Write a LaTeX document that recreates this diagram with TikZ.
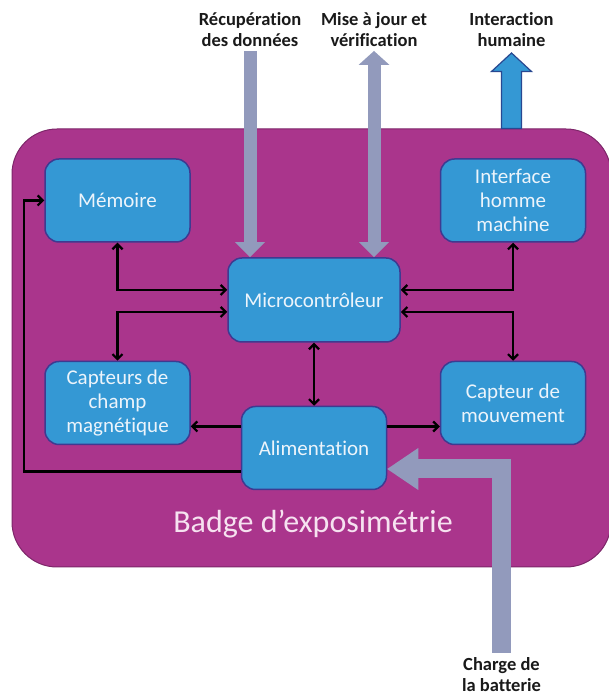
\documentclass[tikz,border=0pt]{standalone}
\usepackage{fontspec}
\setmainfont{Carlito}[Ligatures=NoCommon]
\usetikzlibrary{arrows.meta,positioning,calc}

\definecolor{badgeFill}{RGB}{170,53,140}
\definecolor{badgeLine}{RGB}{125,38,105}
\definecolor{blocFill}{RGB}{52,152,212}
\definecolor{blocLine}{RGB}{62,58,145}
\definecolor{blocText}{RGB}{236,244,251}
\definecolor{titreText}{RGB}{246,226,240}
\definecolor{grisFleche}{RGB}{146,154,188}
\definecolor{bleuLine}{RGB}{40,72,145}

\tikzset{
  badge/.style={rectangle, rounded corners=45pt, draw=badgeLine, line width=1pt,
    fill=badgeFill, minimum width=599pt, minimum height=438pt, inner sep=0pt},
  bloc/.style={rectangle, rounded corners=14pt, draw=blocLine, line width=1.5pt,
    fill=blocFill, text=blocText, font=\fontsize{21}{24}\selectfont, align=center,
    minimum width=145pt, minimum height=83pt, inner sep=2pt},
  lbl/.style={font=\bfseries\fontsize{18.5}{21}\selectfont, align=center,
    inner sep=4pt, text=black!90},
  titre/.style={font=\fontsize{32}{36}\selectfont, text=titreText, inner sep=0pt},
  arrK/.style={{Straight Barb[length=5pt,width=10pt]}-{Straight Barb[length=5pt,width=10pt]},
    line width=2.2pt, black},
  arrS/.style={-{Straight Barb[length=5pt,width=10pt]}, line width=2.2pt, black},
  arrG/.style={-{Triangle[length=15pt,width=30pt,line width=0pt]}, line width=13pt, grisFleche},
  arrGG/.style={{Triangle[length=14pt,width=31pt,line width=0pt]}-{Triangle[length=15pt,width=30pt,line width=0pt]},
    line width=13pt, grisFleche},
  arrL/.style={-{Triangle[length=31pt,width=42pt,line width=0pt]}, line width=19pt,
    grisFleche, line join=miter},
  flecheBleue/.style={fill=blocFill, draw=bleuLine, line width=1.2pt, line join=miter},
}

\begin{document}
\begin{tikzpicture}[x=1pt, y=1pt]
\useasboundingbox (0,0) rectangle (609,695);

% ================= BADGE =================
\node[badge] (badge) at (311.5,347) {};
\node[titre, anchor=base] (titre) at (313,162) {Badge d’exposimétrie};

% ================= BLOCS =================
\node[bloc] (mem) at (117.5,494.5) {Mémoire};
\node[bloc, right=249pt of mem] (ihm) {Interface\\homme\\machine};
\node[bloc, below=118pt of mem] (champ) {Capteurs de\\champ\\magnétique};
\node[bloc, below=118pt of ihm] (mvt) {Capteur de\\mouvement};
\node[bloc, minimum width=172pt, minimum height=84pt] (mcu) at (314,395) {Microcontrôleur};
\node[bloc, below=63pt of mcu] (alim) {Alimentation};

% ================= LABELS EXTERNES =================
\node[lbl, anchor=south] (rec) at (250,644) {Récupération\\des données};
\node[lbl, anchor=south] (maj) at (374,644) {Mise à jour et\\vérification};
\node[lbl, anchor=south] (hum) at (511.5,644) {Interaction\\humaine};
\node[lbl, anchor=north] (chg) at (501.5,42) {Charge de\\la batterie};

% ================= LIAISONS INTERNES =================
\draw[arrK] (mem.south) |- ([yshift=10pt]mcu.west);
\draw[arrK] (ihm.south) |- ([yshift=10pt]mcu.east);
\draw[arrK] ([yshift=-12pt]mcu.west) -| (champ.north);
\draw[arrK] ([yshift=-12pt]mcu.east) -| (mvt.north);
\draw[arrK] (mcu.south) -- (alim.north);

\draw[arrS] ([yshift=21.5pt]alim.west) -- ([yshift=21.5pt]alim.west -| champ.east);
\draw[arrS] ([yshift=21.5pt]alim.east) -- ([yshift=21.5pt]alim.east -| mvt.west);
\draw[arrS] ([yshift=-23.5pt]alim.west) -| ([xshift=-20pt]mem.west) -- (mem.west);

% ================= FLECHES EXTERNES =================
\draw[arrG] (rec) -- (rec |- mcu.north);
\draw[arrGG] (maj) -- (maj |- mcu.north);
\draw[arrL] (chg) |- ([yshift=-21pt]alim.east);

\coordinate (humBase) at (hum.south |- badge.north);
\filldraw[flecheBleue] ($(humBase)+(-10,0)$) -- ($(humBase)+(-10,57)$)
  -- ($(humBase)+(-20,57)$) -- ([yshift=-2pt]hum.south) -- ($(humBase)+(20,57)$)
  -- ($(humBase)+(10,57)$) -- ($(humBase)+(10,0)$) -- cycle;

\end{tikzpicture}
\end{document}
